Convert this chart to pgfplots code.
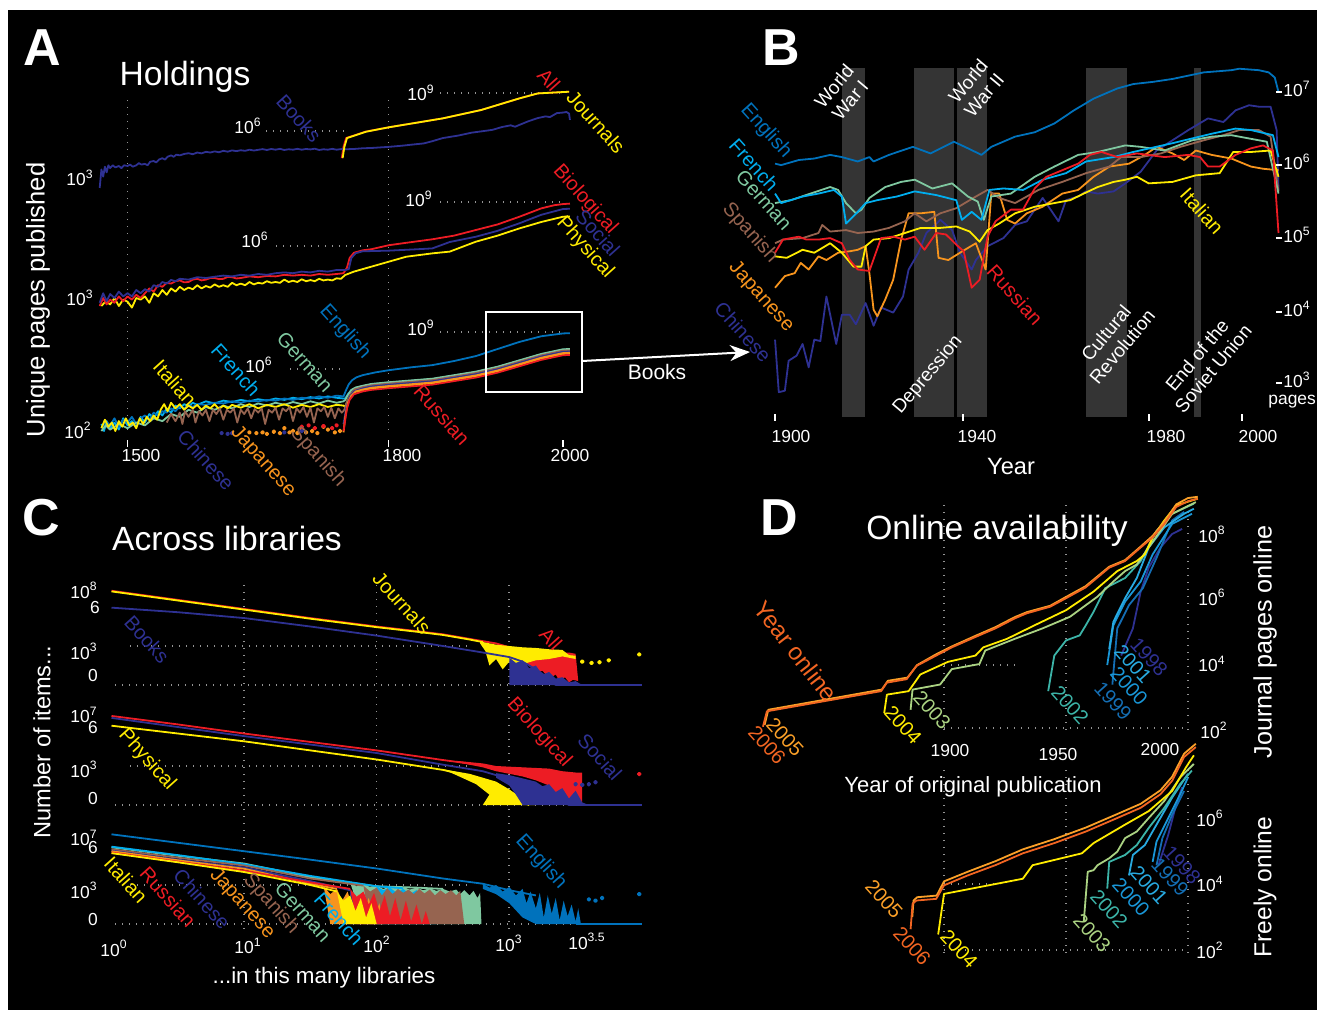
\documentclass[border=0pt]{standalone}
\usepackage{fontspec}
\setmainfont{Liberation Sans}
\usepackage{pgfplots}
\pgfplotsset{compat=1.18}
\usetikzlibrary{arrows.meta}
\definecolor{cnavy}{RGB}{46,49,146}
\definecolor{cred}{RGB}{237,28,36}
\definecolor{cyel}{RGB}{255,236,0}
\definecolor{ceng}{RGB}{0,114,188}
\definecolor{cfre}{RGB}{0,174,239}
\definecolor{cger}{RGB}{127,200,160}
\definecolor{cspa}{RGB}{150,100,80}
\definecolor{cjap}{RGB}{247,148,29}
\definecolor{cband}{RGB}{52,52,52}
\definecolor{d06}{RGB}{242,101,34}
\definecolor{d05}{RGB}{251,160,40}
\definecolor{d04}{RGB}{255,236,0}
\definecolor{d03}{RGB}{170,210,130}
\definecolor{d02}{RGB}{60,180,168}
\definecolor{d01}{RGB}{40,170,225}
\definecolor{d00}{RGB}{25,150,215}
\definecolor{d99}{RGB}{20,110,180}
\definecolor{d98}{RGB}{46,49,146}
\pgfplotsset{panel/.style={hide axis, scale only axis, anchor=south west, clip=false,
  every axis plot/.append style={line width=0.9pt, line join=round}}}
\tikzset{gdot/.style={draw=gray!85, line width=0.7pt, dash pattern=on 0.7pt off 2.8pt},
  tk/.style={text=white, font=\fontsize{8.7}{9}\selectfont, inner sep=0pt},
  sr/.style={font=\fontsize{10}{11}\selectfont, inner sep=0pt, rotate=-48},
  ev/.style={text=white, font=\fontsize{9.5}{10.5}\selectfont, inner sep=0pt, align=center, rotate=50}}
\newcommand{\tp}[1]{10\textsuperscript{#1}}
\begin{document}
\begin{tikzpicture}
\begin{scope}[x=0.5pt,y=-0.5pt]
\useasboundingbox (0,0) rectangle (1317,1013);
\fill[white] (0,0) rectangle (1317,1013);
\fill[black] (8,10) rectangle (1317,1010);
% panel A grid
\draw[gdot] (127.5,100) -- (127.5,432);
\draw[gdot] (388.5,100) -- (388.5,432);
\draw[gdot] (266,131) -- (347,131);
\draw[gdot] (440,93) -- (560,93);
\draw[gdot] (276,246) -- (370,246);
\draw[gdot] (440,202) -- (562,202);
\draw[gdot] (290,369) -- (345,369);
\draw[gdot] (440,332) -- (560,332);
\foreach \x in {127.5,388.5,563} \draw[white,line width=0.6pt] (\x,440) -- (\x,447);
% panel C grid
\foreach \y in {685,805,924} \draw[gdot] (115,\y) -- (640,\y);
\foreach \y in {646,766,885} \draw[gdot] (130,\y) -- (470,\y);
\foreach \x in {244,376.6,509} \draw[gdot] (\x,585) -- (\x,930);
% panel D grid
\foreach \x in {944,1066,1188} {\draw[gdot] (\x,505) -- (\x,735); \draw[gdot] (\x,770) -- (\x,955);}
\draw[gdot] (944,728) -- (1188,728);
\draw[gdot] (944,665) -- (1015,665);
\draw[gdot] (944,950) -- (1188,950);
\draw[gdot] (944,884) -- (1000,884);
\end{scope}

% ================= PANEL A =================
\begin{axis}[panel, at={(42pt,-96.1pt)}, width=248.2pt, height=53.15pt, xmin=1450, xmax=2020, ymin=2, ymax=9.5]
\addplot[cred] coordinates {(1746,4.4)(1748,5.2)(1751,5.82)(1773,6.27)(1800,6.58)(1862,7.21)(1906,7.8)(1950,8.62)(1971,8.97)(2007,9.09)};
\addplot[cnavy] coordinates {(1468,2.3)(1470,3.6)(1472,3.1)(1474,3.8)(1476,3.4)(1478,3.9)(1480,3.7)(1483,3.9)(1486,3.75)(1490,3.85)(1493,3.7)(1496,3.9)(1500,3.85)(1503,3.95)(1506,3.8)(1510,3.9)(1513,4.05)(1516,3.95)(1520,4.0)(1523,3.9)(1526,4.15)(1530,4.2)(1533,4.1)(1536,4.3)(1540,4.4)(1543,4.3)(1546,4.5)(1550,4.6)(1553,4.5)(1556,4.65)(1560,4.6)(1565,4.7)(1570,4.75)(1575,4.68)(1580,4.8)(1585,4.74)(1590,4.85)(1595,4.8)(1600,4.88)(1605,4.82)(1610,4.92)(1615,4.86)(1620,4.95)(1625,4.9)(1630,4.96)(1635,4.92)(1640,5.0)(1645,4.94)(1650,4.99)(1655,5.04)(1660,4.98)(1665,5.05)(1670,5.0)(1675,5.06)(1680,4.98)(1685,5.03)(1690,5.0)(1695,5.06)(1700,5.0)(1705,5.05)(1710,5.02)(1715,5.07)(1720,4.98)(1725,5.03)(1730,5.0)(1735,5.06)(1740,5.0)(1745,5.04)(1750,5.03)(1760,5.05)(1770,5.1)(1780,5.12)(1790,5.16)(1800,5.2)(1815,5.28)(1830,5.38)(1840,5.44)(1850,5.6)(1862,5.82)(1880,6.0)(1895,6.2)(1906,6.29)(1919,6.4)(1930,6.6)(1940,6.72)(1945,6.62)(1950,6.75)(1960,7.0)(1971,7.23)(1980,7.35)(1985,7.3)(1993,7.58)(2000,7.62)(2004,7.66)(2007,7.55)(2008,7.1)};
\addplot[cyel] coordinates {(1747,4.41)(1749,5.2)(1752,5.82)(1774,6.27)(1800,6.58)(1862,7.21)(1906,7.8)(1950,8.62)(1971,8.97)(2007,9.09)};
\end{axis}

\begin{axis}[panel, at={(42pt,-153pt)}, width=248.2pt, height=53.6pt, xmin=1450, xmax=2020, ymin=2.5, ymax=9.2]
\addplot[cyel] coordinates {(1470,2.5)(1475,2.8)(1480,2.6)(1485,3.0)(1490,2.5)(1495,2.9)(1500,2.77)(1505,2.4)(1510,3.0)(1515,2.9)(1520,3.1)(1525,2.7)(1530,3.3)(1535,3.1)(1540,3.5)(1545,3.2)(1550,3.6)(1555,3.4)(1560,3.7)(1565,3.5)(1570,3.65)(1575,3.55)(1580,3.8)(1585,3.6)(1590,3.75)(1595,3.65)(1600,3.85)(1605,3.7)(1610,3.8)(1615,3.7)(1620,3.95)(1625,3.8)(1630,3.9)(1635,3.8)(1640,4.0)(1645,3.85)(1650,3.95)(1655,3.9)(1660,4.05)(1665,3.95)(1670,4.0)(1675,3.95)(1680,4.15)(1685,4.0)(1690,4.08)(1695,4.0)(1700,4.17)(1705,4.05)(1710,4.12)(1715,4.05)(1720,4.2)(1725,4.1)(1730,4.15)(1735,4.1)(1740,4.23)(1745,4.2)(1750,4.44)(1760,4.65)(1780,4.96)(1800,5.27)(1820,5.58)(1850,5.79)(1870,5.9)(1900,6.52)(1925,6.9)(1950,7.35)(1975,7.75)(2000,8.08)(2008,8.1)};
\addplot[cred] coordinates {(1468,2.5)(1472,3.0)(1476,2.6)(1480,2.9)(1485,2.7)(1490,3.1)(1495,2.8)(1500,3.1)(1505,2.9)(1510,3.2)(1515,3.0)(1520,3.3)(1525,3.6)(1530,3.4)(1535,3.8)(1540,3.7)(1545,3.95)(1550,3.9)(1555,4.05)(1560,4.1)(1565,3.98)(1570,4.0)(1575,4.15)(1580,4.2)(1585,4.1)(1590,4.15)(1595,4.25)(1600,4.25)(1605,4.18)(1610,4.2)(1615,4.32)(1620,4.3)(1625,4.22)(1630,4.25)(1640,4.35)(1650,4.3)(1660,4.38)(1670,4.35)(1680,4.45)(1690,4.4)(1700,4.45)(1710,4.4)(1720,4.5)(1730,4.45)(1740,4.5)(1748,4.55)(1752,4.9)(1755,5.5)(1760,5.83)(1770,5.98)(1780,6.05)(1800,6.3)(1820,6.45)(1850,6.67)(1875,6.9)(1900,7.25)(1925,7.6)(1950,8.08)(1975,8.6)(1990,8.8)(2000,8.87)(2008,8.9)};
\addplot[cnavy] coordinates {(1468,2.7)(1472,3.3)(1476,2.8)(1480,3.25)(1485,3.0)(1490,3.4)(1495,3.1)(1500,3.3)(1505,3.1)(1510,3.5)(1515,3.3)(1520,3.55)(1525,3.4)(1530,3.8)(1535,3.7)(1540,4.0)(1545,3.9)(1550,4.13)(1555,4.05)(1560,4.2)(1570,4.15)(1580,4.3)(1590,4.25)(1600,4.33)(1610,4.4)(1620,4.35)(1630,4.45)(1640,4.4)(1650,4.5)(1660,4.45)(1670,4.55)(1680,4.6)(1690,4.55)(1700,4.65)(1710,4.6)(1720,4.7)(1730,4.65)(1740,4.75)(1750,4.75)(1754,4.8)(1757,5.5)(1762,5.8)(1770,5.92)(1800,5.96)(1830,6.04)(1850,6.1)(1870,6.5)(1900,6.83)(1925,7.2)(1950,7.67)(1975,8.2)(2000,8.56)(2008,8.58)};
\end{axis}

\begin{axis}[panel, at={(42pt,-219.04pt)}, width=248.2pt, height=54.45pt, xmin=1450, xmax=2020, ymin=1.5, ymax=9.2]
\addplot[cfre] coordinates {(1470,2.5)(1473,2.0)(1476,2.7)(1480,2.2)(1485,2.6)(1490,2.1)(1495,2.9)(1500,2.4)(1505,2.7)(1510,2.3)(1515,3.0)(1520,2.6)(1525,3.2)(1530,2.9)(1535,3.4)(1540,3.1)(1545,3.6)(1550,3.3)(1555,3.8)(1560,3.6)(1565,3.9)(1570,3.75)(1575,4.0)(1580,3.85)(1590,4.1)(1600,3.95)(1610,4.15)(1620,4.05)(1630,4.2)(1640,4.1)(1650,4.25)(1660,4.15)(1670,4.3)(1680,4.2)(1690,4.35)(1700,4.25)(1710,4.4)(1720,4.3)(1730,4.45)(1740,4.35)(1748,4.3)(1750,4.3)(1753,4.6)(1757,4.9)(1762,5.05)(1770,5.17)(1780,5.3)(1800,5.42)(1850,5.67)(1900,6.17)(1925,6.52)(1950,6.97)(1975,7.42)(2000,7.75)(2008,7.77)};
\addplot[ceng] coordinates {(1470,2.2)(1475,2.7)(1480,2.4)(1485,2.9)(1490,2.3)(1495,2.8)(1500,2.6)(1505,3.0)(1510,2.5)(1515,2.9)(1520,3.1)(1525,2.8)(1530,3.3)(1535,3.1)(1540,3.4)(1545,3.3)(1550,3.6)(1555,3.4)(1560,3.75)(1565,3.6)(1570,3.85)(1575,3.7)(1580,3.9)(1590,3.85)(1600,4.0)(1610,3.95)(1620,4.1)(1630,4.0)(1640,4.15)(1650,4.1)(1660,4.2)(1670,4.15)(1680,4.3)(1690,4.2)(1700,4.35)(1710,4.3)(1720,4.45)(1730,4.35)(1740,4.5)(1748,4.45)(1751,4.9)(1754,5.3)(1758,5.6)(1763,5.8)(1770,5.95)(1785,6.15)(1800,6.3)(1825,6.5)(1850,6.66)(1875,6.95)(1900,7.3)(1925,7.8)(1950,8.3)(1975,8.7)(2000,8.9)(2008,8.92)};
\addplot[cger] coordinates {(1470,2.0)(1475,2.4)(1480,2.1)(1490,2.5)(1500,2.2)(1510,2.6)(1520,2.4)(1530,2.9)(1540,2.7)(1550,3.2)(1560,3.0)(1570,3.5)(1580,3.3)(1590,3.7)(1600,3.5)(1610,3.8)(1620,3.6)(1630,3.9)(1640,3.7)(1650,3.95)(1660,3.8)(1670,4.0)(1680,3.85)(1690,4.05)(1700,3.9)(1710,4.1)(1720,3.95)(1730,4.15)(1740,4.0)(1748,4.1)(1750,4.2)(1753,4.55)(1757,4.9)(1762,5.08)(1770,5.2)(1780,5.33)(1800,5.45)(1850,5.7)(1900,6.2)(1925,6.55)(1950,7.0)(1975,7.45)(2000,7.78)(2008,7.8)};
\addplot[cyel] coordinates {(1470,2.2)(1474,2.8)(1478,2.3)(1482,2.6)(1486,2.0)(1490,2.7)(1494,2.3)(1498,2.9)(1502,2.4)(1506,2.6)(1510,2.2)(1514,2.9)(1518,2.5)(1522,3.0)(1526,2.7)(1530,3.1)(1534,2.8)(1538,3.5)(1542,3.9)(1546,3.4)(1550,4.0)(1555,3.6)(1560,3.9)(1565,3.5)(1570,3.8)(1575,3.6)(1580,3.85)(1585,3.5)(1590,3.8)(1595,3.6)(1600,3.9)(1605,3.55)(1610,3.8)(1615,3.6)(1620,3.85)(1630,3.65)(1640,3.9)(1650,3.6)(1660,3.85)(1670,3.7)(1680,3.9)(1690,3.65)(1700,3.85)(1710,3.7)(1720,3.9)(1730,3.7)(1740,3.85)(1748,3.8)(1750,3.7)(1753,4.2)(1757,4.55)(1762,4.78)(1770,4.87)(1780,5.0)(1800,5.12)(1850,5.37)(1900,5.87)(1925,6.22)(1950,6.67)(1975,7.12)(2000,7.45)(2008,7.47)};
\addplot[cspa] coordinates {(1545,2.6)(1550,3.2)(1555,2.7)(1560,3.3)(1563,2.5)(1566,3.4)(1570,3.0)(1575,3.5)(1578,2.6)(1582,3.4)(1586,3.1)(1590,3.5)(1594,2.7)(1598,3.5)(1602,3.2)(1606,3.6)(1610,2.8)(1614,3.5)(1618,3.3)(1622,3.6)(1626,2.6)(1630,3.5)(1634,3.2)(1638,3.6)(1642,2.9)(1646,3.55)(1650,3.3)(1654,3.6)(1658,2.5)(1662,3.5)(1666,3.3)(1670,3.65)(1674,2.8)(1678,3.6)(1682,3.4)(1686,3.7)(1690,2.7)(1694,3.6)(1698,3.3)(1702,3.7)(1706,3.0)(1710,3.65)(1714,2.6)(1718,3.6)(1722,3.4)(1726,3.7)(1730,3.0)(1734,3.65)(1738,2.9)(1742,3.6)(1746,3.3)(1749,3.5)(1752,4.1)(1756,4.6)(1761,4.95)(1770,5.1)(1780,5.23)(1800,5.35)(1850,5.6)(1900,6.1)(1925,6.45)(1950,6.9)(1975,7.35)(2000,7.68)(2008,7.7)};
\addplot[cnavy] coordinates {(1748,2.5)(1751,3.6)(1755,4.4)(1760,4.8)(1770,5.02)(1780,5.15)(1800,5.27)(1850,5.52)(1900,6.02)(1925,6.37)(1950,6.82)(1975,7.27)(2000,7.6)(2008,7.62)};
\addplot[cjap] coordinates {(1748,1.9)(1750,3.0)(1753,4.0)(1757,4.5)(1762,4.8)(1770,4.93)(1780,5.06)(1800,5.18)(1850,5.43)(1900,5.93)(1925,6.28)(1950,6.73)(1975,7.18)(2000,7.51)(2008,7.53)};
\addplot[cred] coordinates {(1748,2.0)(1750,2.8)(1752,3.6)(1755,4.2)(1760,4.6)(1770,4.8)(1780,4.91)(1800,5.03)(1850,5.28)(1900,5.78)(1925,6.13)(1950,6.58)(1975,7.03)(2000,7.36)(2008,7.38)};
\addplot[only marks, mark=*, mark size=0.7pt, cjap] coordinates {(1640,1.9)(1648,1.85)(1655,1.9)(1660,1.8)(1668,1.95)(1675,1.85)(1680,2.2)(1686,1.9)(1690,2.0)(1695,1.85)(1700,2.1)(1705,1.9)(1712,2.0)(1718,1.85)(1725,2.3)(1730,2.1)(1738,1.9)(1744,2.0)};
\addplot[only marks, mark=*, mark size=0.7pt, cnavy] coordinates {(1608,1.85)(1615,1.8)(1620,1.85)(1680,1.9)(1700,2.0)};
\addplot[only marks, mark=*, mark size=0.7pt, cred] coordinates {(1700,2.3)(1708,2.4)(1715,2.2)(1725,2.35)(1735,2.2)(1740,2.4)};
\end{axis}

% ================= PANEL B =================
\begin{axis}[panel, at={(382.85pt,-208.5pt)}, width=259.2pt, height=174.5pt, xmin=1898, xmax=2009, ymin=2.55, ymax=7.33]
\fill[cband] (axis cs:1914.3,2.55) rectangle (axis cs:1919.3,7.33);
\fill[cband] (axis cs:1929.8,2.55) rectangle (axis cs:1938.4,7.33);
\fill[cband] (axis cs:1938.9,2.55) rectangle (axis cs:1945.3,7.33);
\fill[cband] (axis cs:1966.6,2.55) rectangle (axis cs:1975.4,7.33);
\fill[cband] (axis cs:1989.8,2.55) rectangle (axis cs:1991.1,7.33);
\addplot[cnavy] coordinates {(1900,3.61)(1900.8,2.89)(1902.1,2.91)(1902.9,3.32)(1904.6,3.39)(1905.9,3.55)(1907.2,3.23)(1908.4,3.61)(1909.7,3.59)(1911,4.2)(1913.1,3.55)(1914.3,3.95)(1916,3.95)(1917.3,3.82)(1919.4,4.11)(1921.1,3.8)(1922.7,4.05)(1925.3,3.98)(1927.4,4.2)(1928.6,4.57)(1930.7,4.8)(1932.4,5.07)(1935.4,5.25)(1937.9,5.11)(1939.6,4.8)(1942.1,4.57)(1943,4.7)(1945.5,4.89)(1948.9,5.0)(1951.4,5.18)(1953.9,5.23)(1957.3,5.55)(1960.7,5.23)(1962.3,5.52)(1964.9,5.57)(1966.6,5.64)(1969.1,5.61)(1972.5,5.64)(1975,5.75)(1978.3,5.91)(1981.7,6.2)(1985.1,6.34)(1988.5,6.48)(1992.7,6.64)(1996,6.59)(1998.6,6.75)(2001.5,6.82)(2003.6,6.8)(2006.1,6.8)(2007.4,6.48)(2007.8,5.66)};
\addplot[cjap] coordinates {(1900,4.32)(1902.1,4.48)(1904.2,4.52)(1905.5,4.66)(1907.2,4.57)(1909.3,4.75)(1911,4.7)(1913.5,4.8)(1916,4.82)(1917.7,4.84)(1919.4,4.89)(1920.2,4.52)(1921.1,4.02)(1921.9,3.93)(1923.6,4.16)(1925.3,4.43)(1927,4.98)(1928.6,5.34)(1931.2,5.34)(1934.1,5.36)(1935,4.73)(1937.1,4.7)(1939.6,4.8)(1943,4.93)(1945.1,4.57)(1946.3,5.61)(1948,5.61)(1949.7,5.25)(1951.4,5.2)(1953.9,5.34)(1957.3,5.43)(1961.5,5.61)(1964.9,5.66)(1968.2,5.84)(1971.6,5.98)(1975.8,6.02)(1979.2,6.14)(1981.7,6.25)(1985.1,6.16)(1987.6,6.07)(1990.1,6.2)(1993.5,6.14)(1997.7,6.09)(2001.9,5.98)(2004.5,5.95)(2007.8,5.93)};
\addplot[cspa] coordinates {(1900,4.93)(1901.7,4.98)(1905.9,5.0)(1909.3,5.07)(1910.1,5.18)(1911.8,5.09)(1915.2,5.11)(1917.7,5.07)(1921.1,5.09)(1924.4,5.14)(1927.8,5.23)(1929.9,5.34)(1932.4,5.23)(1935.4,5.34)(1938.8,5.41)(1943,5.57)(1945.5,5.66)(1948,5.55)(1951.4,5.48)(1956.4,5.66)(1961.5,5.77)(1966.6,5.89)(1971.6,5.98)(1974.1,6.11)(1978.3,6.11)(1982.6,6.16)(1986.8,6.25)(1991.8,6.34)(1996,6.41)(1999.4,6.48)(2003.6,6.48)(2006.1,6.39)(2007.8,5.64)};
\addplot[cger] coordinates {(1900,5.48)(1903.4,5.52)(1907.6,5.61)(1911.8,5.7)(1913.5,5.66)(1915.2,5.48)(1917.3,5.34)(1918.5,5.39)(1920.2,5.55)(1923.6,5.7)(1927,5.77)(1929.9,5.8)(1933.7,5.68)(1937.9,5.75)(1941.3,5.57)(1943.4,5.5)(1944.7,5.25)(1946.3,5.57)(1950.5,5.61)(1955.6,5.84)(1959.8,5.98)(1964.9,6.14)(1969.1,6.18)(1975,6.27)(1978.3,6.25)(1983.4,6.2)(1989.3,6.34)(1993.5,6.39)(1997.7,6.41)(2001.9,6.36)(2005.3,6.32)(2007.8,5.61)};
\addplot[cfre] coordinates {(1900,5.61)(1901.3,5.48)(1905.9,5.57)(1909.3,5.61)(1912.6,5.66)(1914.3,5.57)(1915.2,5.2)(1917.7,5.36)(1919.4,5.48)(1921.9,5.52)(1926.1,5.57)(1929.9,5.64)(1934.5,5.59)(1938.8,5.52)(1940,5.25)(1942.1,5.36)(1944.2,5.25)(1945.9,5.66)(1948.9,5.68)(1953.1,5.66)(1957.3,5.8)(1962.3,5.89)(1966.6,6.05)(1972.5,6.11)(1976.7,6.18)(1985.1,6.3)(1993.5,6.43)(1998.6,6.5)(2001.9,6.48)(2006.6,6.41)(2007.8,6.11)};
\addplot[cyel] coordinates {(1900,4.75)(1902.5,4.73)(1905.9,4.84)(1908.4,4.8)(1911.8,4.93)(1914.3,4.8)(1916.8,4.61)(1918.5,4.61)(1919.4,4.89)(1921.1,4.98)(1924.4,5.0)(1927.8,5.07)(1931.2,5.14)(1935.4,5.14)(1938.8,5.16)(1941.7,5.09)(1943.8,4.95)(1945.5,5.11)(1948,5.2)(1951.4,5.34)(1955.6,5.43)(1959.8,5.48)(1963.2,5.52)(1966.1,5.61)(1969.1,5.7)(1972.5,5.77)(1975,5.8)(1977.5,5.84)(1980,5.75)(1985.1,5.77)(1990.1,5.86)(1995.2,5.89)(1998.1,6.18)(2001.9,6.18)(2006.1,6.2)(2007.8,5.84)};
\addplot[cred] coordinates {(1900,4.8)(1901.7,4.98)(1905.1,5.02)(1906.7,4.98)(1909.3,4.98)(1911.8,5.0)(1914.3,4.93)(1916,4.7)(1917.7,4.57)(1920.2,4.55)(1922.7,5.0)(1925.3,5.02)(1927.8,4.98)(1929.9,5.02)(1932,4.84)(1934.5,5.07)(1936.6,5.05)(1938.8,4.91)(1940.4,4.82)(1942.1,4.32)(1943.8,4.43)(1945.5,5.02)(1947.2,5.23)(1950.5,5.39)(1953.1,5.39)(1955.6,5.68)(1958.1,5.84)(1961.5,5.93)(1964.9,6.02)(1967.4,6.14)(1969.9,6.18)(1973.3,6.11)(1977.5,6.16)(1983.4,6.11)(1988.5,6.14)(1991,6.11)(1992.7,5.98)(1995.2,5.98)(1998.6,6.14)(2001.9,6.23)(2004.5,6.27)(2006.6,6.2)(2007.8,5.07)};
\addplot[ceng] coordinates {(1900,6.02)(1901.3,6.0)(1905.1,6.07)(1908.4,6.09)(1911.8,6.14)(1914.3,6.11)(1917.7,6.05)(1920.2,6.11)(1921.1,6.05)(1924.4,6.14)(1929.5,6.25)(1933.3,6.16)(1938.3,6.32)(1941.3,6.23)(1944.2,6.14)(1946.3,6.25)(1951.4,6.39)(1955.6,6.45)(1959.8,6.57)(1964,6.75)(1968.2,6.91)(1973.3,7.05)(1976.7,7.11)(1980.9,7.14)(1985.1,7.18)(1991.8,7.27)(1997.7,7.3)(1999.4,7.32)(2003.6,7.3)(2005.7,7.27)(2007,7.2)(2007.8,7.0)};
\end{axis}

% ================= PANEL C =================
\begin{axis}[panel, at={(55.75pt,-343.8pt)}, width=265.2pt, height=52pt, xmin=0, xmax=4, ymin=-0.2, ymax=7.8]
\addplot[cred] coordinates {(0,7.25)(0.5,6.55)(1,5.85)(1.5,5.15)(2,4.5)(2.3,4.15)(2.5,3.9)(2.7,3.55)(2.9,3.2)(3.0,2.9)};
\addplot[fill=cred, draw=none] coordinates {(2.95,3.1)(3.05,2.8)(3.1,2.75)(3.15,2.65)(3.2,2.7)(3.25,2.6)(3.3,2.65)(3.35,2.55)(3.4,2.5)(3.45,2.5)(3.5,2.4)(3.52,0.3)(3.48,0.4)(3.45,0.2)(3.42,0.6)(3.38,0.3)(3.35,0.8)(3.3,0.5)(3.25,1.1)(3.2,0.9)(3.15,1.5)(3.1,1.8)(3.05,2.2)(3.0,2.5)};
\addplot[cyel] coordinates {(0,7.2)(0.5,6.5)(1,5.8)(1.5,5.1)(2,4.45)(2.3,4.1)(2.5,3.85)(2.7,3.5)(2.8,3.3)};
\addplot[fill=cyel, draw=none] coordinates {(2.78,3.35)(2.9,3.1)(3.0,3.0)(3.1,2.9)(3.2,2.85)(3.3,2.75)(3.4,2.7)(3.45,2.3)(3.5,2.25)(3.5,2.0)(3.4,2.2)(3.3,2.0)(3.2,1.9)(3.1,1.6)(3.0,1.8)(2.95,1.2)(2.9,2.0)(2.85,1.5)(2.82,2.6)(2.78,3.2)};
\addplot[only marks, mark=*, mark size=0.7pt, cyel] coordinates {(3.55,1.8)(3.62,1.7)(3.68,1.75)(3.75,1.9)(3.98,2.35)};
\addplot[cnavy] coordinates {(0,5.95)(0.5,5.6)(1,5.15)(1.5,4.5)(2,3.8)(2.5,3.0)(2.8,2.5)(3.0,2.15)(3.1,1.8)(3.2,1.2)(3.3,0.5)(3.35,0)(4.0,0)};
\addplot[fill=cnavy, draw=none] coordinates {(3.0,2.1)(3.05,1.7)(3.1,1.9)(3.15,1.3)(3.2,1.5)(3.25,0.8)(3.3,1.0)(3.35,0.5)(3.4,0.6)(3.45,0.2)(3.5,0.3)(3.55,0)(3.0,0)};
\end{axis}

\begin{axis}[panel, at={(55.75pt,-403.8pt)}, width=265.2pt, height=48.1pt, xmin=0, xmax=4, ymin=-0.2, ymax=7.2]
\addplot[cred] coordinates {(0,6.85)(0.5,6.2)(1,5.5)(1.5,4.85)(2,4.2)(2.5,3.46)(2.8,3.05)(3.0,2.7)(3.2,2.5)};
\addplot[fill=cred, draw=none] coordinates {(2.6,3.4)(2.7,3.3)(2.8,3.2)(2.9,3.0)(3.0,2.95)(3.1,2.9)(3.2,2.85)(3.3,2.8)(3.4,2.6)(3.5,2.5)(3.55,2.5)(3.55,0)(3.5,0.8)(3.45,0)(3.4,1.2)(3.35,0.2)(3.3,1.5)(3.2,1.9)(3.1,2.2)(3.0,2.4)(2.9,2.6)(2.8,2.9)(2.7,3.1)(2.6,3.3)};
\addplot[only marks, mark=*, mark size=0.7pt, cred] coordinates {(3.98,2.38)};
\addplot[cyel] coordinates {(0,6.1)(0.5,5.5)(1,4.9)(1.5,4.2)(2,3.5)(2.5,2.7)(2.8,2.0)(2.9,1.6)(3.0,0.8)(3.1,0.2)(3.15,0)};
\addplot[fill=cyel, draw=none] coordinates {(2.5,2.75)(2.7,2.4)(2.8,2.1)(2.9,1.8)(3.0,1.2)(3.1,0.5)(3.2,0)(2.8,0)(2.85,0.8)(2.75,1.6)(2.6,2.3)};
\addplot[cnavy] coordinates {(0,6.7)(0.5,6.0)(1,5.3)(1.5,4.65)(2,4.0)(2.5,3.1)(2.8,2.6)(3.0,2.0)(3.2,1.2)(3.3,0.7)(3.4,0.3)(3.45,0)(4.0,0)};
\addplot[fill=cnavy, draw=none] coordinates {(2.9,2.45)(3.0,2.3)(3.1,2.05)(3.2,1.8)(3.25,1.45)(3.3,1.6)(3.35,1.0)(3.4,1.3)(3.45,0.5)(3.5,1.1)(3.55,0.2)(3.6,0)(3.1,0)(3.05,0.8)(3.0,1.5)(2.9,2.1)};
\addplot[only marks, mark=*, mark size=0.7pt, cnavy] coordinates {(3.5,1.6)(3.55,1.55)(3.6,1.6)(3.65,1.75)};
\end{axis}

\begin{axis}[panel, at={(55.75pt,-463.3pt)}, width=265.2pt, height=48.1pt, xmin=0, xmax=4, ymin=-0.2, ymax=7.2]
\addplot[ceng] coordinates {(0,6.9)(0.5,6.25)(1,5.6)(1.5,4.95)(2,4.27)(2.5,3.5)(2.8,3.1)(3.0,2.6)(3.2,2.2)};
\addplot[fill=ceng, draw=none] coordinates {(2.8,3.1)(2.85,2.8)(2.9,3.0)(2.95,2.5)(3.0,2.85)(3.05,2.2)(3.1,2.7)(3.13,1.6)(3.16,2.5)(3.2,1.2)(3.23,2.4)(3.26,0.5)(3.29,2.2)(3.32,0.8)(3.35,2.0)(3.38,0.3)(3.41,1.8)(3.44,0.6)(3.47,1.5)(3.5,0.2)(3.52,1.2)(3.54,0)(3.2,0)(3.1,0.5)(3.0,1.6)(2.9,2.3)(2.8,2.7)};
\addplot[ceng] coordinates {(3.5,0)(4.0,0)};
\addplot[only marks, mark=*, mark size=0.7pt, ceng] coordinates {(3.6,1.9)(3.65,1.8)(3.7,2.0)(3.98,2.3)};
\addplot[cger] coordinates {(0,5.9)(0.5,5.25)(1,4.65)(1.5,3.6)(2,2.9)(2.3,2.8)(2.5,2.7)};
\addplot[fill=cger, draw=none] coordinates {(1.8,3.2)(1.85,2.9)(1.9,3.05)(1.95,2.85)(2.0,2.95)(2.05,2.7)(2.1,2.9)(2.15,2.75)(2.2,2.85)(2.25,2.65)(2.3,2.8)(2.35,2.6)(2.4,2.75)(2.45,2.55)(2.5,2.7)(2.55,2.5)(2.6,2.65)(2.63,2.3)(2.66,2.6)(2.7,2.2)(2.73,2.55)(2.76,2.0)(2.78,2.4)(2.79,0)(1.9,0)};
\addplot[cfre] coordinates {(0,5.95)(0.5,5.3)(1,4.6)(1.5,3.7)(2,2.9)(2.2,2.75)};
\addplot[fill=cfre, draw=none] coordinates {(2.0,2.9)(2.05,2.6)(2.1,2.8)(2.15,2.4)(2.2,2.7)(2.25,2.3)(2.3,2.6)(2.35,2.1)(2.4,2.5)(2.45,0)(2.0,0)};
\addplot[cspa] coordinates {(0,5.75)(0.5,5.1)(1,4.5)(1.5,3.5)(1.9,2.95)};
\addplot[fill=cspa, draw=none] coordinates {(1.9,2.95)(1.95,2.5)(2.0,2.8)(2.04,2.2)(2.08,2.75)(2.12,2.3)(2.16,2.7)(2.2,2.4)(2.24,2.65)(2.28,2.3)(2.32,2.7)(2.36,2.35)(2.4,2.65)(2.44,2.2)(2.48,2.6)(2.52,2.3)(2.56,2.6)(2.6,2.2)(2.63,2.55)(2.66,0)(1.95,0)};
\addplot[cnavy] coordinates {(0,5.65)(0.5,4.95)(1,4.35)(1.5,3.3)(1.8,2.6)};
\addplot[fill=cnavy, draw=none] coordinates {(1.8,2.6)(1.84,1.6)(1.88,2.2)(1.92,0.8)(1.96,1.8)(2.0,0.3)(2.03,0)(1.8,0)};
\addplot[cjap] coordinates {(0,5.6)(0.5,4.9)(1,4.25)(1.5,3.1)(1.7,2.7)};
\addplot[fill=cjap, draw=none] coordinates {(1.6,2.9)(1.65,2.3)(1.7,2.7)(1.74,1.8)(1.78,2.5)(1.82,1.2)(1.86,2.3)(1.9,0.8)(1.94,2.0)(1.98,0.4)(2.02,1.6)(2.05,0)(1.65,0)};
\addplot[cred] coordinates {(0,5.5)(0.5,4.8)(1,4.1)(1.5,3.2)(1.8,2.7)};
\addplot[fill=cred, draw=none] coordinates {(1.8,2.7)(1.85,2.1)(1.9,2.5)(1.94,1.5)(1.98,2.4)(2.02,1.0)(2.06,2.2)(2.1,0.6)(2.14,2.0)(2.18,0.3)(2.22,1.8)(2.26,0.2)(2.3,1.5)(2.34,0)(2.37,1.0)(2.4,0)(1.85,0)};
\addplot[cyel] coordinates {(0,5.45)(0.5,4.75)(1,4.0)(1.5,3.0)(1.7,2.5)};
\addplot[fill=cyel, draw=none] coordinates {(1.7,2.5)(1.75,1.8)(1.8,2.2)(1.84,1.0)(1.88,2.0)(1.92,0.5)(1.96,1.6)(2.0,0)(1.75,0)};
\end{axis}

% ================= PANEL D =================
\begin{axis}[panel, at={(374.4pt,-367.15pt)}, width=226.92pt, height=120.5pt, xmin=1820, xmax=2006, ymin=1.8, ymax=9.45]
\addplot[d98] coordinates {(1972.6,4.3)(1977.4,5.16)(1980.6,6.33)(1983.9,7.09)(1988.7,7.73)(1993.5,8.16)(1997.6,8.32)};
\addplot[d99] coordinates {(1969,3.38)(1971,5.16)(1975.8,5.9)(1981.5,6.44)(1987.1,7.4)(1993.5,8.59)(1998.4,8.86)};
\addplot[d00] coordinates {(1966.9,4.0)(1969.4,5.26)(1974.2,6.01)(1980.6,6.65)(1985.5,7.51)(1993.5,8.48)(2001.6,8.8)};
\addplot[d01] coordinates {(1967.7,4.51)(1969.4,5.37)(1974.2,6.12)(1979,6.76)(1983.9,7.73)(1990.3,8.37)(1998.4,8.8)(2002.4,8.96)};
\addplot[d02] coordinates {(1942.7,3.17)(1945.2,4.3)(1950,4.78)(1955.6,4.94)(1958.1,5.26)(1961.3,5.69)(1966.1,6.44)(1974.2,6.76)(1980.6,7.3)(1987.1,8.26)(1993.5,8.8)(2002.4,9.12)};
\addplot[d03] coordinates {(1886.3,2.58)(1887.1,3.22)(1898.4,3.38)(1903.2,3.87)(1914.5,4.03)(1916.9,4.46)(1929,4.83)(1940.3,5.16)(1951.6,5.53)(1962.9,6.17)(1969.4,6.65)(1974.2,6.98)(1979,7.19)(1983.9,7.73)(1993.5,8.8)(2003.2,9.17)};
\addplot[d04] coordinates {(1875.5,2.48)(1876.6,3.06)(1885.5,3.17)(1890.3,3.7)(1901.6,4.1)(1912.9,4.3)(1916.1,4.56)(1925.8,4.83)(1937.1,5.26)(1950,5.74)(1961.3,6.33)(1971,6.98)(1979,7.3)(1982.3,7.51)(1985.5,8.05)(1990.3,8.59)(1995.2,9.07)(2004,9.28)};
\addplot[d05] coordinates {(1826.5,2.1)(1828,2.58)(1874.5,3.22)(1877,3.5)(1885,3.6)(1889,4.0)(1897,4.35)(1903.5,4.6)(1913,4.93)(1921,5.2)(1929,5.52)(1934,5.68)(1943.5,5.88)(1950,6.16)(1958,6.5)(1967.7,7.12)(1974.2,7.33)(1980.6,7.76)(1985.5,8.1)(1990.3,8.55)(1995.2,9.1)(2000,9.3)(2004,9.34)};
\addplot[d06] coordinates {(1825.8,2.04)(1827.4,2.53)(1874.2,3.17)(1876.6,3.44)(1884.7,3.55)(1888.7,3.97)(1896.8,4.3)(1903.2,4.56)(1912.9,4.89)(1921,5.16)(1929,5.48)(1933.9,5.64)(1943.5,5.85)(1950,6.12)(1958,6.46)(1967.7,7.09)(1974.2,7.3)(1980.6,7.73)(1985.5,8.05)(1990.3,8.48)(1995.2,9.02)(2000,9.2)(2004,9.28)};
\end{axis}

\begin{axis}[panel, at={(374.4pt,-478.3pt)}, width=226.92pt, height=107.25pt, xmin=1820, xmax=2006, ymin=1.8, ymax=8.3]
\addplot[d98] coordinates {(1987.9,4.57)(1991.9,5.49)(1995.2,6.42)(1997.6,6.93)};
\addplot[d99] coordinates {(1987.1,4.57)(1989.5,5.39)(1993.5,6.1)(1998.4,6.82)};
\addplot[d00] coordinates {(1985.5,4.67)(1987.1,5.29)(1991.9,6.0)(1996.8,6.72)(2000,7.23)};
\addplot[d01] coordinates {(1975.8,4.26)(1977.4,4.88)(1982.3,5.18)(1987.1,5.8)(1993.5,6.62)(2000,7.34)};
\addplot[d02] coordinates {(1966.9,3.86)(1967.7,4.67)(1974.2,4.88)(1979,5.18)(1983.9,5.7)(1990.3,6.31)(1996.8,7.03)(2001.6,7.44)};
\addplot[d03] coordinates {(1957.3,2.88)(1958.9,4.37)(1961.3,4.42)(1962.9,4.57)(1967.7,4.78)(1971,4.98)(1974.2,5.39)(1979,5.59)(1983.9,6.0)(1990.3,6.52)(1996.8,7.23)(2002.4,7.64)};
\addplot[d04] coordinates {(1897.6,2.47)(1900,3.7)(1932.3,4.16)(1936.3,4.57)(1956.5,4.93)(1961.3,5.24)(1974.2,5.8)(1983.9,6.21)(1993.5,6.82)(1999.2,7.54)(2002.4,7.9)};
\addplot[d05] coordinates {(1887,3.0)(1887.5,3.5)(1889,3.6)(1897,3.65)(1900,4.08)(1910,4.38)(1921,4.69)(1932.3,5.05)(1945.2,5.36)(1958.1,5.71)(1971,6.12)(1980.6,6.43)(1988.7,6.84)(1993.5,7.25)(1998.4,7.95)(2003.2,8.25)};
\addplot[d06] coordinates {(1886.3,2.63)(1887.1,3.4)(1888.7,3.5)(1896.8,3.55)(1900,3.96)(1909.7,4.26)(1921,4.57)(1932.3,4.93)(1945.2,5.24)(1958.1,5.59)(1971,6.0)(1980.6,6.31)(1988.7,6.72)(1993.5,7.13)(1998.4,7.85)(2003.2,8.15)};
\end{axis}

% ================= TEXT =================
\begin{scope}[x=0.5pt,y=-0.5pt]
\node[text=white, font=\fontsize{26}{28}\selectfont\bfseries, inner sep=0pt] at (42,48) {A};
\node[text=white, font=\fontsize{26}{28}\selectfont\bfseries, inner sep=0pt] at (781,48) {B};
\node[text=white, font=\fontsize{26}{28}\selectfont\bfseries, inner sep=0pt] at (41,518) {C};
\node[text=white, font=\fontsize{26}{28}\selectfont\bfseries, inner sep=0pt] at (779,518) {D};
\node[text=white, font=\fontsize{16.8}{18}\selectfont, inner sep=0pt] at (185,77) {Holdings};
\node[text=white, font=\fontsize{16.8}{18}\selectfont, inner sep=0pt] at (227,538) {Across libraries};
\node[text=white, font=\fontsize{16.8}{18}\selectfont, inner sep=0pt] at (997,531) {Online availability};
\node[text=white, font=\fontsize{12.8}{14}\selectfont, inner sep=0pt, rotate=90] at (38,300) {Unique pages published};
\node[text=white, font=\fontsize{11.8}{13}\selectfont, inner sep=0pt, rotate=90] at (42,742) {Number of items...};
\node[text=white, font=\fontsize{11.2}{13}\selectfont, inner sep=0pt] at (324,978) {...in this many libraries};
\node[text=white, font=\fontsize{11.8}{13}\selectfont, inner sep=0pt] at (1011,466) {Year};
\node[text=white, font=\fontsize{11}{13}\selectfont, inner sep=0pt] at (973,787) {Year of original publication};
\node[text=white, font=\fontsize{12.6}{14}\selectfont, inner sep=0pt, rotate=90] at (1265,642) {Journal pages online};
\node[text=white, font=\fontsize{12.3}{14}\selectfont, inner sep=0pt, rotate=90] at (1265,887) {Freely online};
% panel A ticks
\node[tk] at (141,455) {1500};
\node[tk] at (402,455) {1800};
\node[tk] at (570,455) {2000};
\node[tk] at (80,178) {\tp{3}};
\node[tk] at (248,126) {\tp{6}};
\node[tk] at (421,93) {\tp{9}};
\node[tk] at (80,298) {\tp{3}};
\node[tk] at (255,240) {\tp{6}};
\node[tk] at (419,199) {\tp{9}};
\node[tk] at (78,430) {\tp{2}};
\node[tk] at (259,365) {\tp{6}};
\node[tk] at (421,328) {\tp{9}};
% panel A series labels
\node[sr, text=cnavy] at (299,118) {Books};
\node[sr, text=cred] at (549,80) {All};
\node[sr, text=cyel] at (596,122) {Journals};
\node[sr, text=cred] at (585,200) {Biological};
\node[sr, text=cnavy] at (598,233) {Social};
\node[sr, text=cyel] at (585,248) {Physical};
\node[sr, text=ceng] at (345,332) {English};
\node[sr, text=cger] at (305,362) {German};
\node[sr, text=cfre] at (236,370) {French};
\node[sr, text=cyel] at (175,383) {Italian};
\node[sr, text=cnavy] at (206,460) {Chinese};
\node[sr, text=cjap] at (263,462) {Japanese};
\node[sr, text=cspa] at (318,457) {Spanish};
\node[sr, text=cred] at (442,415) {Russian};
\draw[white, line width=1pt] (486,312) rectangle (582,392);
\draw[white, line width=1pt, -{Stealth[length=10pt,width=8pt]}] (582,361) -- (750,352);
\node[text=white, font=\fontsize{10.5}{12}\selectfont, inner sep=0pt] at (657,372) {Books};
% panel B ticks and labels
\foreach \x/\lab/\lx in {775/1900/791, 963/1940/977, 1149/1980/1166, 1242/2000/1258} {
  \draw[white, line width=0.6pt] (\x,414) -- (\x,421);
  \node[tk] at (\lx,437) {\lab};}
\foreach \y/\e in {92/7, 165/6, 238/5, 312/4, 383/3} {
  \draw[white, line width=0.6pt] (1276,\y) -- (1282,\y);
  \node[tk, anchor=west] at (1283,\y-3) {\tp{\e}};}
\node[tk, anchor=west] at (1268,402) {pages};
\node[ev] at (842,93) {World\\War I};
\node[ev] at (976,88) {World\\War II};
\node[ev] at (928,375) {Depression};
\node[ev] at (1114,340) {Cultural\\Revolution};
\node[ev] at (1205,362) {End of the\\Soviet Union};
\node[sr, text=ceng] at (766,131) {English};
\node[sr, text=cfre] at (754,165) {French};
\node[sr, text=cger] at (764,200) {German};
\node[sr, text=cspa] at (750,233) {Spanish};
\node[sr, text=cjap] at (761,297) {Japanese};
\node[sr, text=cnavy] at (743,332) {Chinese};
\node[sr, text=cred] at (1015,295) {Russian};
\node[sr, text=cyel] at (1202,211) {Italian};
% panel C ticks
\node[tk] at (84,590) {\tp{8}};
\node[tk] at (95,607) {6};
\node[tk] at (84,651) {\tp{3}};
\node[tk] at (93,675) {0};
\node[tk] at (84,715) {\tp{7}};
\node[tk] at (93,727) {6};
\node[tk] at (84,769) {\tp{3}};
\node[tk] at (93,798) {0};
\node[tk] at (84,838) {\tp{7}};
\node[tk] at (93,847) {6};
\node[tk] at (84,890) {\tp{3}};
\node[tk] at (93,919) {0};
\node[tk] at (114,948) {\tp{0}};
\node[tk] at (248,946) {\tp{1}};
\node[tk] at (377,944) {\tp{2}};
\node[tk] at (509,943) {\tp{3}};
\node[tk] at (587,941) {\tp{3.5}};
% panel C series labels
\node[sr, text=cyel] at (402,603) {Journals};
\node[sr, text=cred] at (551,639) {All};
\node[sr, text=cnavy] at (147,639) {Books};
\node[sr, text=cred] at (539,733) {Biological};
\node[sr, text=cnavy] at (600,757) {Social};
\node[sr, text=cyel] at (147,760) {Physical};
\node[sr, text=ceng] at (541,862) {English};
\node[sr, text=cyel] at (126,880) {Italian};
\node[sr, text=cred] at (168,897) {Russian};
\node[sr, text=cnavy] at (202,899) {Chinese};
\node[sr, text=cjap] at (242,904) {Japanese};
\node[sr, text=cspa] at (271,904) {Spanish};
\node[sr, text=cger] at (303,912) {German};
\node[sr, text=cfre] at (339,919) {French};
% panel D ticks
\node[tk] at (950,750) {1900};
\node[tk] at (1058,754) {1950};
\node[tk] at (1160,749) {2000};
\node[tk] at (1212,534) {\tp{8}};
\node[tk] at (1212,597) {\tp{6}};
\node[tk] at (1212,664) {\tp{4}};
\node[tk] at (1214,730) {\tp{2}};
\node[tk] at (1210,818) {\tp{6}};
\node[tk] at (1210,884) {\tp{4}};
\node[tk] at (1210,950) {\tp{2}};
% panel D labels
\node[sr, text=d06, font=\fontsize{12}{13}\selectfont, rotate=-4] at (796,651) {Year online};
\node[sr, text=d05] at (785,737) {2005};
\node[sr, text=d06] at (767,745) {2006};
\node[sr, text=d04] at (903,725) {2004};
\node[sr, text=d03] at (932,710) {2003};
\node[sr, text=d02] at (1070,705) {2002};
\node[sr, text=d99] at (1113,701) {1999};
\node[sr, text=d00] at (1129,686) {2000};
\node[sr, text=d01] at (1133,664) {2001};
\node[sr, text=d98] at (1149,657) {1998};
\node[sr, text=d05] at (884,899) {2005};
\node[sr, text=d06] at (912,946) {2006};
\node[sr, text=d04] at (959,949) {2004};
\node[sr, text=d03] at (1092,933) {2003};
\node[sr, text=d02] at (1109,909) {2002};
\node[sr, text=d00] at (1131,897) {2000};
\node[sr, text=d01] at (1149,885) {2001};
\node[sr, text=d99] at (1170,877) {1999};
\node[sr, text=d98] at (1182,865) {1998};
\end{scope}
\end{tikzpicture}
\end{document}
